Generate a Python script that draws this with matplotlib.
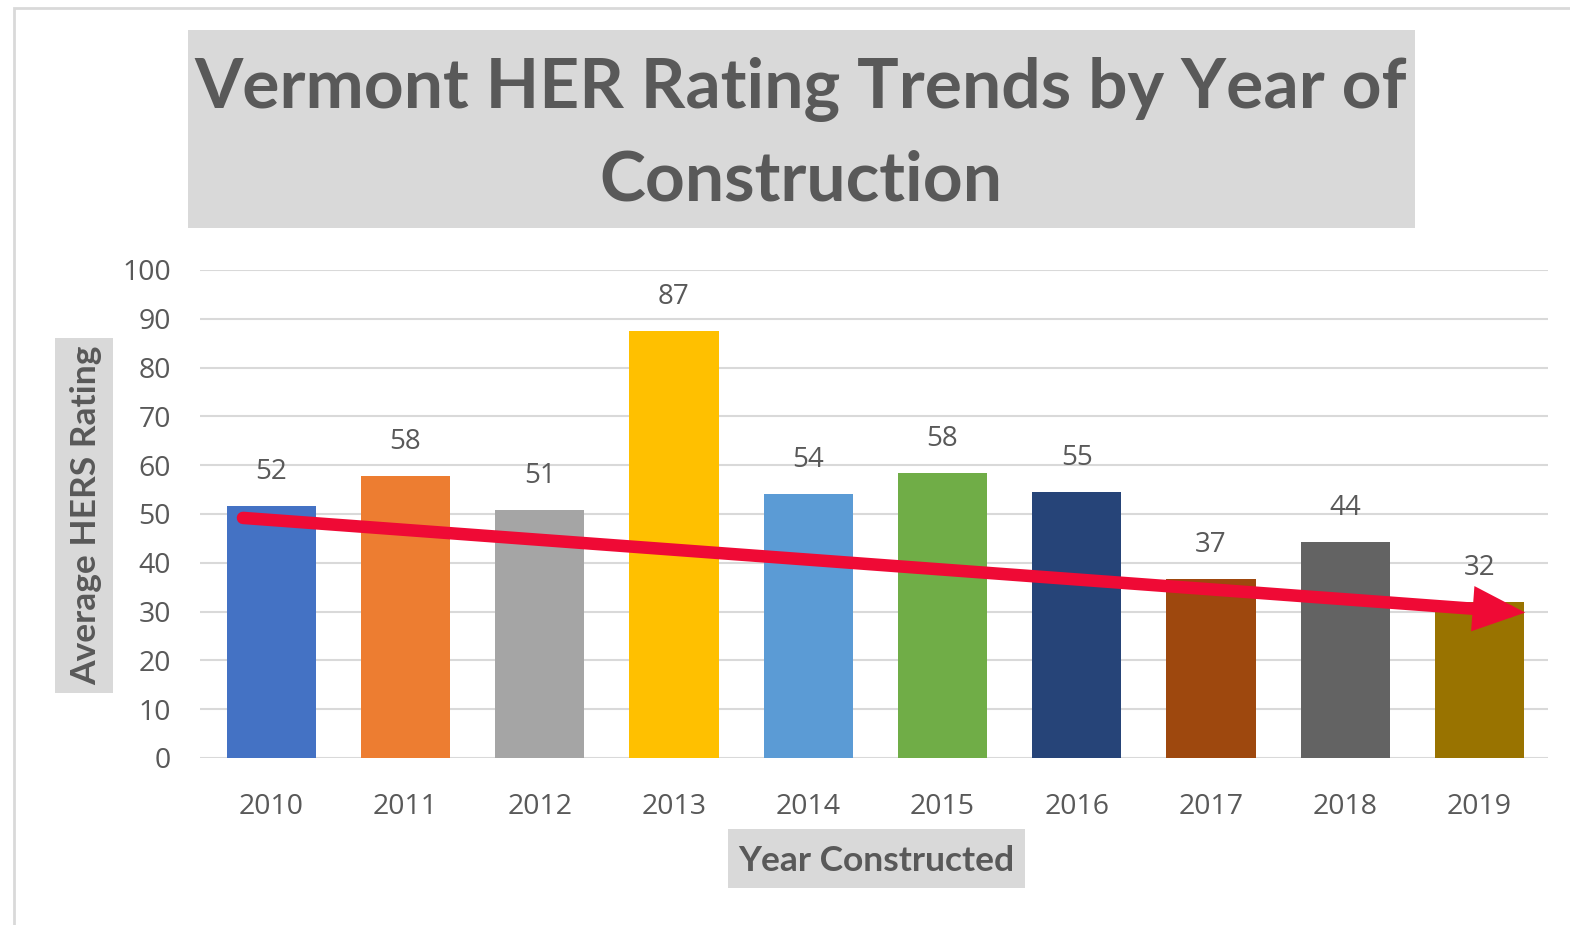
import matplotlib
matplotlib.use("Agg")
import matplotlib.pyplot as plt
from matplotlib.patches import Rectangle

years = ["2010", "2011", "2012", "2013", "2014", "2015", "2016", "2017", "2018", "2019"]
ratings = [51.6, 57.7, 50.8, 87.4, 54.0, 58.3, 54.6, 36.7, 44.2, 31.9]
colors = ["#4472C4", "#ED7D31", "#A5A5A5", "#FFC000", "#5B9BD5",
          "#70AD47", "#264478", "#9E480E", "#636363", "#997300"]
yticks = [0, 10, 20, 30, 40, 50, 60, 70, 80, 90, 100]
trend_start = (-0.21, 49.2)
trend_end = (9.34, 29.8)

W, H = 1570, 925
fig = plt.figure(figsize=(W / 100, H / 100), dpi=100)
fig.patch.set_facecolor("white")

def fx(px):
    return px / W

def fy(py):
    return 1 - py / H

TXT = "#595959"
GRID = "#D9D9D9"
tick_font = "Open Sans"
title_font = "Lato"

# outer border
fig.patches.append(Rectangle((fx(14), fy(1000)), fx(1700) - fx(14), fy(8) - fy(1000),
                             transform=fig.transFigure, fill=False,
                             edgecolor="#D9D9D9", linewidth=2, zorder=0))

# title box
fig.patches.append(Rectangle((fx(188), fy(228)), fx(1415) - fx(188), fy(30) - fy(228),
                             transform=fig.transFigure, facecolor="#D9D9D9",
                             edgecolor="none", zorder=0))
fig.text(fx(801), fy(90), "Vermont HER Rating Trends by Year of", ha="center", va="center",
         fontsize=50, fontweight="bold", color=TXT, family=title_font)
fig.text(fx(801), fy(181), "Construction", ha="center", va="center",
         fontsize=50, fontweight="bold", color=TXT, family=title_font)

ax = fig.add_axes([fx(200), fy(758), fx(1548) - fx(200), fy(270) - fy(758)])
x = list(range(len(years)))
ax.bar(x, ratings, width=0.665, color=colors, zorder=2)
for xi, v in zip(x, ratings):
    ax.annotate(f"{round(v):d}", xy=(xi, v), xytext=(0, 24.5), textcoords="offset points",
                ha="center", va="center", fontsize=20, color=TXT, family=tick_font)

ax.set_xlim(-0.53, 9.51)
ax.set_ylim(0, 100)
ax.set_yticks(yticks)
ax.set_yticklabels([str(t) for t in yticks], fontsize=20.5, color=TXT, family=tick_font)
ax.set_xticks(x)
ax.set_xticklabels(years, fontsize=20.5, color=TXT, family=tick_font)
ax.tick_params(axis="both", length=0)
ax.tick_params(axis="y", pad=21)
ax.tick_params(axis="x", pad=25.5)
ax.yaxis.grid(True, color=GRID, linewidth=1.5, zorder=0)
ax.set_axisbelow(True)
for s in ax.spines.values():
    s.set_visible(False)
ax.patch.set_alpha(0)

# trend arrow
ax.annotate("", xy=trend_end, xytext=trend_start,
            arrowprops=dict(arrowstyle="-|>,head_length=2.2,head_width=0.95",
                            color="#EF0A35", linewidth=9, shrinkA=0, shrinkB=0,
                            joinstyle="miter"),
            zorder=5)

# y axis label box
fig.patches.append(Rectangle((fx(55), fy(693)), fx(113) - fx(55), fy(338) - fy(693),
                             transform=fig.transFigure, facecolor="#D9D9D9",
                             edgecolor="none", zorder=0))
fig.text(fx(86), fy(515), "Average HERS Rating", rotation=90, ha="center", va="center",
         fontsize=25.5, fontweight="bold", color=TXT, family=title_font)

# x axis label box
fig.patches.append(Rectangle((fx(728), fy(888)), fx(1025) - fx(728), fy(829) - fy(888),
                             transform=fig.transFigure, facecolor="#D9D9D9",
                             edgecolor="none", zorder=0))
fig.text(fx(876), fy(861), "Year Constructed", ha="center", va="center",
         fontsize=25.5, fontweight="bold", color=TXT, family=title_font)

fig.savefig("out.png", dpi=100)
